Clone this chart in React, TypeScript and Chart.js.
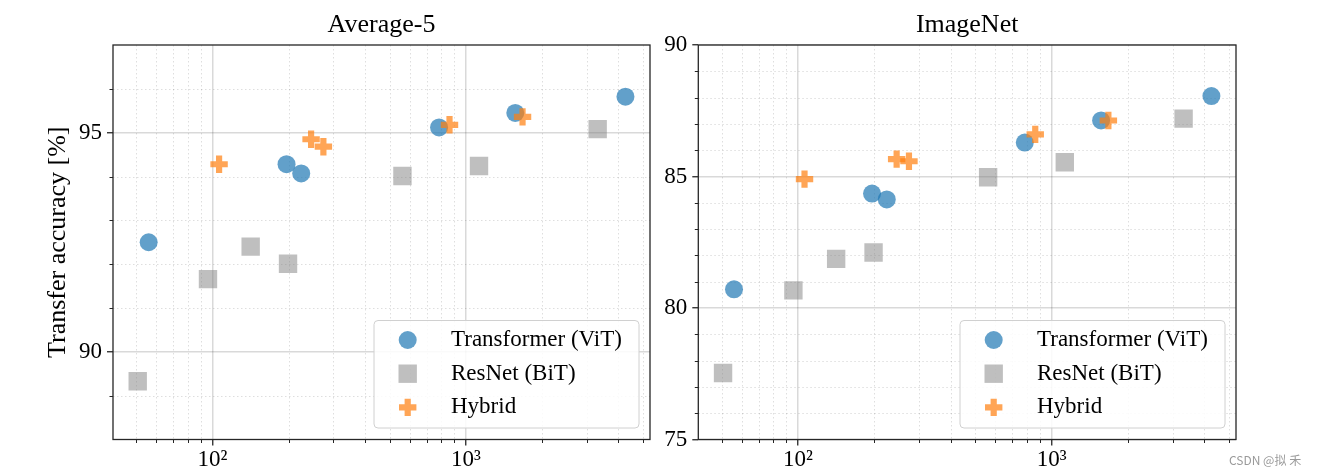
import React, { useEffect, useRef } from 'react';
import { Chart, registerables } from 'chart.js';

Chart.register(...registerables);

// ---------- data ----------
const SERIES_LABELS = ['Transformer (ViT)', 'ResNet (BiT)', 'Hybrid'];
const VIT_X = [56, 196, 224, 784, 1567, 4264];
const BIT_X = [50.7, 96, 141.5, 198.7, 562, 1127, 3313];
const HYB_X = [106.2, 245, 274, 862, 1674];

const AVG5_VIT = [92.5, 94.28, 94.07, 95.12, 95.45, 95.82];
const AVG5_BIT = [89.33, 91.66, 92.4, 92.01, 94.01, 94.24, 95.08];
const AVG5_HYB = [94.28, 94.85, 94.68, 95.18, 95.36];

const IN_VIT = [80.71, 84.35, 84.13, 86.29, 87.13, 88.06];
const IN_BIT = [77.53, 80.67, 81.87, 82.11, 84.97, 85.54, 87.2];
const IN_HYB = [84.9, 85.66, 85.58, 86.6, 87.13];

const X_RANGE = [40.5, 5330];
const X_TICKS = [100, 1000];
const X_TICK_LABELS = ['10²', '10³'];
const X_MINOR = [50, 60, 70, 80, 90, 200, 300, 400, 500, 600, 700, 800, 900, 2000, 3000, 4000, 5000];

const AVG5_Y_RANGE = [88, 97];
const AVG5_Y_TICKS = [90, 95];
const AVG5_Y_MINOR = [89, 91, 92, 93, 94, 96];

const IN_Y_RANGE = [75, 90];
const IN_Y_TICKS = [75, 80, 85, 90];
const IN_Y_MINOR = [76, 77, 78, 79, 81, 82, 83, 84, 86, 87, 88, 89];

const FONT = '"Liberation Serif", "Times New Roman", serif';
const BLUE = 'rgba(31,119,180,0.7)';
const GREY = 'rgba(127,127,127,0.5)';
const ORANGE = 'rgba(255,127,14,0.7)';

function pts(xs: number[], ys: number[]) {
  return xs.map((x, i) => ({ x, y: ys[i] }));
}

function drawMarker(ctx: CanvasRenderingContext2D, ds: any, cx: number, cy: number) {
  const r = ds.pointRadius;
  ctx.save();
  if (ds.pointStyle === 'circle') {
    ctx.beginPath();
    ctx.arc(cx, cy, r, 0, Math.PI * 2);
    ctx.fillStyle = ds.backgroundColor;
    ctx.fill();
  } else if (ds.pointStyle === 'rect') {
    const s = r * Math.SQRT1_2;
    ctx.fillStyle = ds.backgroundColor;
    ctx.fillRect(cx - s, cy - s, 2 * s, 2 * s);
  } else {
    ctx.beginPath();
    ctx.moveTo(cx - r, cy);
    ctx.lineTo(cx + r, cy);
    ctx.moveTo(cx, cy - r);
    ctx.lineTo(cx, cy + r);
    ctx.strokeStyle = ds.borderColor;
    ctx.lineWidth = ds.borderWidth;
    ctx.lineCap = 'butt';
    ctx.stroke();
  }
  ctx.restore();
}

const framePlugin = {
  id: 'mplFrame',
  beforeDatasetsDraw(chart: any, _args: any, opts: any) {
    const { ctx, chartArea: a } = chart;
    const xs = chart.scales.x;
    const ys = chart.scales.y;
    ctx.save();
    ctx.strokeStyle = 'rgba(0,0,0,0.13)';
    ctx.lineWidth = 1;
    ctx.setLineDash([1.5, 2.5]);
    (opts.xMinor || []).forEach((v: number) => {
      const px = Math.round(xs.getPixelForValue(v)) + 0.5;
      ctx.beginPath();
      ctx.moveTo(px, a.top);
      ctx.lineTo(px, a.bottom);
      ctx.stroke();
    });
    (opts.yMinor || []).forEach((v: number) => {
      const py = Math.round(ys.getPixelForValue(v)) + 0.5;
      ctx.beginPath();
      ctx.moveTo(a.left, py);
      ctx.lineTo(a.right, py);
      ctx.stroke();
    });
    ctx.setLineDash([]);
    ctx.strokeStyle = '#262626';
    ctx.lineWidth = 1;
    (opts.xMinor || []).forEach((v: number) => {
      const px = Math.round(xs.getPixelForValue(v)) + 0.5;
      ctx.beginPath();
      ctx.moveTo(px, a.bottom);
      ctx.lineTo(px, a.bottom + 3.5);
      ctx.stroke();
    });
    (opts.yMinor || []).forEach((v: number) => {
      const py = Math.round(ys.getPixelForValue(v)) + 0.5;
      ctx.beginPath();
      ctx.moveTo(a.left, py);
      ctx.lineTo(a.left - 3.5, py);
      ctx.stroke();
    });
    ctx.restore();
  },
  afterDatasetsDraw(chart: any, _args: any, opts: any) {
    const { ctx, chartArea: a } = chart;
    ctx.save();
    ctx.strokeStyle = '#262626';
    ctx.lineWidth = 1.3;
    ctx.strokeRect(a.left, a.top, a.right - a.left, a.bottom - a.top);
    const w = 265, h = 107.5;
    const x0 = a.right - 11 - w;
    const y0 = a.bottom - 11.5 - h;
    ctx.beginPath();
    (ctx as any).roundRect(x0, y0, w, h, 4);
    ctx.fillStyle = 'rgba(255,255,255,0.85)';
    ctx.fill();
    ctx.strokeStyle = '#d0d0d0';
    ctx.lineWidth = 1;
    ctx.stroke();
    chart.data.datasets.forEach((ds: any, i: number) => {
      const cy = y0 + 19.5 + i * 33.7;
      drawMarker(ctx, ds, x0 + 33.7, cy);
      ctx.fillStyle = '#000';
      ctx.font = '23px ' + FONT;
      ctx.textBaseline = 'middle';
      ctx.textAlign = 'left';
      ctx.fillText(ds.label, x0 + 77, cy);
    });
    if (opts.watermark) {
      ctx.fillStyle = '#9a9a9a';
      ctx.font = '12px "Noto Sans CJK SC", "Noto Sans", sans-serif';
      ctx.textAlign = 'left';
      ctx.textBaseline = 'middle';
      ctx.fillText(opts.watermark, opts.wmX, opts.wmY);
    }
    ctx.restore();
  },
};

function makeConfig(p: any) {
  const datasets = [
    {
      label: SERIES_LABELS[0],
      data: pts(VIT_X, p.vit),
      pointStyle: 'circle',
      pointRadius: 9,
      pointHoverRadius: 9,
      backgroundColor: BLUE,
      borderColor: BLUE,
      borderWidth: 0,
      order: 2,
    },
    {
      label: SERIES_LABELS[1],
      data: pts(BIT_X, p.bit),
      pointStyle: 'rect',
      pointRadius: 13,
      pointHoverRadius: 13,
      backgroundColor: GREY,
      borderColor: GREY,
      borderWidth: 0,
      order: 1,
    },
    {
      label: SERIES_LABELS[2],
      data: pts(HYB_X, p.hyb),
      pointStyle: 'cross',
      pointRadius: 8.7,
      pointHoverRadius: 8.7,
      backgroundColor: ORANGE,
      borderColor: ORANGE,
      borderWidth: 6.2,
      order: 0,
    },
  ];
  return {
    type: 'scatter',
    data: { datasets },
    plugins: [framePlugin],
    options: {
      responsive: false,
      animation: false,
      events: [],
      layout: { padding: { left: 0, top: 0, right: p.padRight, bottom: 0 } },
      plugins: {
        legend: { display: false },
        tooltip: { enabled: false },
        title: {
          display: true,
          text: p.title,
          fullSize: false,
          color: '#000',
          font: { family: FONT, size: 26, weight: 'normal', lineHeight: 1.2 },
          padding: { top: 9.9, bottom: 3.9 },
        },
        mplFrame: {
          xMinor: X_MINOR,
          yMinor: p.yMinor,
          watermark: p.watermark,
          wmX: p.wmX,
          wmY: p.wmY,
        },
      },
      scales: {
        x: {
          type: 'logarithmic',
          min: X_RANGE[0],
          max: X_RANGE[1],
          afterBuildTicks: (s: any) => {
            s.ticks = X_TICKS.map((v) => ({ value: v }));
          },
          afterFit: (s: any) => {
            s.height = 35.5;
            s.paddingLeft = 0;
            s.paddingRight = 0;
          },
          ticks: {
            autoSkip: false,
            maxRotation: 0,
            padding: 1,
            color: '#000',
            font: { family: FONT, size: 23 },
            callback: (v: any) => {
              const i = X_TICKS.indexOf(Number(v));
              return i >= 0 ? X_TICK_LABELS[i] : '';
            },
          },
          grid: {
            color: 'rgba(0,0,0,0.15)',
            lineWidth: 1.5,
            tickLength: 6,
            tickColor: '#262626',
            tickWidth: 1.3,
          },
          border: { display: false },
        },
        y: {
          type: 'linear',
          min: p.yRange[0],
          max: p.yRange[1],
          afterBuildTicks: (s: any) => {
            s.ticks = p.yTicks.map((v: number) => ({ value: v }));
          },
          afterFit: (s: any) => {
            s.width = p.yWidth;
          },
          ticks: {
            autoSkip: false,
            padding: 5,
            color: '#000',
            font: { family: FONT, size: 23 },
            callback: (v: any) => String(v),
          },
          grid: {
            color: 'rgba(0,0,0,0.15)',
            lineWidth: 1.5,
            tickLength: 6,
            tickColor: '#262626',
            tickWidth: 1.3,
          },
          border: { display: false },
          title: p.yTitle
            ? {
                display: true,
                text: p.yTitle,
                color: '#000',
                font: { family: FONT, size: 26, lineHeight: 1.2 },
                padding: { top: 42.3, bottom: 0 },
              }
            : { display: false },
        },
      },
    },
  };
}

function ChartCanvas({ cfg, width, height, left }: any) {
  const ref = useRef<HTMLCanvasElement | null>(null);
  useEffect(() => {
    if (!ref.current) return;
    const chart = new Chart(ref.current, cfg as any);
    return () => chart.destroy();
  }, []);
  return (
    <canvas
      ref={ref}
      width={width}
      height={height}
      style={{ position: 'absolute', left, top: 0, width, height, display: 'block' }}
    />
  );
}

export default function App() {
  const leftCfg = makeConfig({
    title: 'Average-5',
    vit: AVG5_VIT,
    bit: AVG5_BIT,
    hyb: AVG5_HYB,
    yRange: AVG5_Y_RANGE,
    yTicks: AVG5_Y_TICKS,
    yMinor: AVG5_Y_MINOR,
    yWidth: 113,
    padRight: 30,
    yTitle: 'Transfer accuracy [%]',
  });
  const rightCfg = makeConfig({
    title: 'ImageNet',
    vit: IN_VIT,
    bit: IN_BIT,
    hyb: IN_HYB,
    yRange: IN_Y_RANGE,
    yTicks: IN_Y_TICKS,
    yMinor: IN_Y_MINOR,
    yWidth: 38.3,
    padRight: 81,
    yTitle: '',
    watermark: 'CSDN @拟 禾',
    wmX: 569,
    wmY: 460,
  });
  return (
    <div style={{ position: 'absolute', left: 0, top: 0, width: 1317, height: 475, background: '#fff', overflow: 'hidden' }}>
      <ChartCanvas cfg={leftCfg} width={680} height={475} left={0} />
      <ChartCanvas cfg={rightCfg} width={657} height={475} left={660} />
    </div>
  );
}
